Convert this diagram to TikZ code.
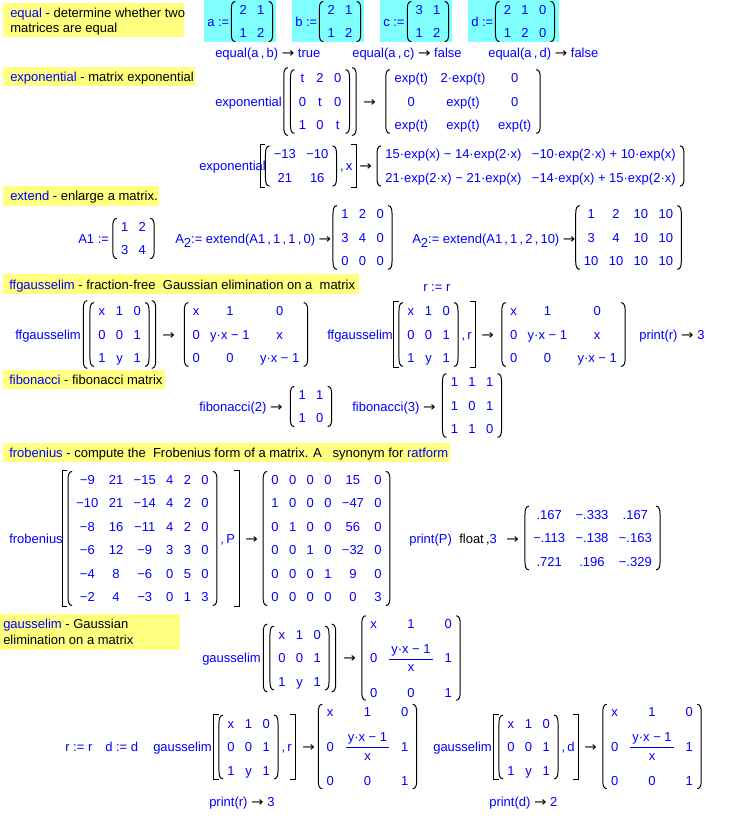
\documentclass[tikz,border=0pt]{standalone}
\usepackage{fontspec}
\usepackage{graphicx}
\setmainfont{Liberation Sans}
\newfontfamily\arrfont{DejaVu Sans}
\usetikzlibrary{matrix,calc}
\definecolor{mb}{RGB}{0,0,255}
\definecolor{hy}{RGB}{255,255,128}
\definecolor{hc}{RGB}{128,255,255}
\newcommand\mf{\fontsize{9.75}{11.7}\selectfont}
\newcommand\rarr{{\color{black}\arrfont\scalebox{1.15}[1]{→}}}
\newcommand\Asub{A\raisebox{-3.5pt}{2}}
\newcommand\gfrac{$\displaystyle{\hbox{\kern1.5pt y·x − 1\kern1.5pt}\above0.75pt\hbox{x}}$}
\tikzset{
 mt/.style={inner sep=0pt, anchor=west, text height=7pt, text depth=0pt, text=mb, font=\mf},
 dt/.style={inner sep=0pt, anchor=west, text height=7pt, text depth=0pt, text=black, font=\mf},
 cell/.style={inner sep=0pt, text height=7pt, text depth=0pt, text=mb, font=\mf},
 mat/.style={matrix of nodes, nodes={cell}, column sep=7.8pt, row sep=10.6pt, inner xsep=6pt, inner ysep=2.6pt, anchor=center},
 fmat/.style={mat, row sep=19pt, inner ysep=2pt},
 dl/.style={draw=black, line width=0.75pt},
 hly/.style={fill=hy, draw=none},
 hlc/.style={fill=hc, draw=none},
}
% parentheses around a node: node, extra x, extra y
\newcommand\pars[3]{%
 \draw[dl] ([xshift=-#2+3pt,yshift=#3]#1.north west) to[out=180,in=90] ([xshift=-#2,yshift=#3-6pt]#1.north west) -- ([xshift=-#2,yshift=-#3+6pt]#1.south west) to[out=-90,in=180] ([xshift=-#2+3pt,yshift=-#3]#1.south west);
 \draw[dl] ([xshift=#2-3pt,yshift=#3]#1.north east) to[out=0,in=90] ([xshift=#2,yshift=#3-6pt]#1.north east) -- ([xshift=#2,yshift=-#3+6pt]#1.south east) to[out=-90,in=0] ([xshift=#2-3pt,yshift=-#3]#1.south east);
}
% left bracket: node, extra x, extra y
\newcommand\lbrk[3]{%
 \draw[dl] ([xshift=-#2+4pt,yshift=#3]#1.north west) -- ([xshift=-#2,yshift=#3]#1.north west) -- ([xshift=-#2,yshift=-#3]#1.south west) -- ([xshift=-#2+4pt,yshift=-#3]#1.south west);
}
% right bracket: matrix node, text node at the right, extra x, extra y
\newcommand\rbrk[4]{%
 \draw[dl] ($(#1.north -| #2.east)+(#3-4pt,#4)$) -- ($(#1.north -| #2.east)+(#3,#4)$) -- ($(#1.south -| #2.east)+(#3,-#4)$) -- ($(#1.south -| #2.east)+(#3-4pt,-#4)$);
}
\begin{document}
\begin{tikzpicture}[x=0.75pt,y=-0.75pt]
\useasboundingbox (0,0) rectangle (738,820);
\fill[white] (0,0) rectangle (738,820);
% ---------- equal
\fill[hly] (3,3) rectangle (184,37);
\node[dt] (d1a) at (10,13) {{\color{mb}equal} - determine whether two};
\node[dt] (d1b) at (10,28) {matrices are equal};
\fill[hlc] (204,0) rectangle (276,42);
\fill[hlc] (292,0) rectangle (364,42);
\fill[hlc] (380,0) rectangle (452,42);
\fill[hlc] (468,0) rectangle (559,42);
\node[mt] (la) at (207,21.5) {a :=};
\matrix (ma) [mat] at (252,21.5) {2 & 1\\ 1 & 2\\};
\pars{ma}{0pt}{0pt}
\node[mt] (lb) at (295,21.5) {b :=};
\matrix (mbm) [mat] at (340,21.5) {2 & 1\\ 1 & 2\\};
\pars{mbm}{0pt}{0pt}
\node[mt] (lc) at (383,21.5) {c :=};
\matrix (mc) [mat] at (428,21.5) {3 & 1\\ 1 & 2\\};
\pars{mc}{0pt}{0pt}
\node[mt] (ld) at (471,21.5) {d :=};
\matrix (md) [mat] at (525,21.5) {2 & 1 & 0\\ 1 & 2 & 0\\};
\pars{md}{0pt}{0pt}
\node[mt] (e1) at (215,53) {equal(a\,,\,b) \rarr{} true};
\node[mt] (e2) at (352,53) {equal(a\,,\,c) \rarr{} false};
\node[mt] (e3) at (488,53) {equal(a\,,\,d) \rarr{} false};
% ---------- exponential
\fill[hly] (3,67) rectangle (195,86);
\node[dt] (d2) at (10,77) {{\color{mb}exponential} - matrix exponential};
\node[mt] (x1) at (215,101.5) {exponential};
\matrix (m1i) [mat] at (320,101.5) {t & 2 & 0\\ 0 & t & 0\\ 1 & 0 & t\\};
\pars{m1i}{0pt}{0pt}
\pars{m1i}{5pt}{1.5pt}
\node[dt] (a1) at (363,101.5) {\rarr};
\matrix (m1o) [mat, column sep=9.5pt, inner xsep=6.5pt] at (463,101.5) {exp(t) & 2·exp(t) & 0\\ 0 & exp(t) & 0\\ exp(t) & exp(t) & exp(t)\\};
\pars{m1o}{0pt}{0pt}
\node[mt] (x2) at (199,166) {exponential};
\matrix (m2i) [mat] at (301,166) {−13 & −10\\ 21 & 16\\};
\pars{m2i}{0pt}{0pt}
\lbrk{m2i}{4pt}{0.75pt}
\node[mt] (c2) at ([xshift=2.5pt]m2i.east) {,\,x};
\rbrk{m2i}{c2}{2.5pt}{0.75pt}
\node[dt] (a2) at (359,166) {\rarr};
\matrix (m2o) [mat] at (530.5,166) {15·exp(x) − 14·exp(2·x) & −10·exp(2·x) + 10·exp(x)\\ 21·exp(2·x) − 21·exp(x) & −14·exp(x) + 15·exp(2·x)\\};
\pars{m2o}{0pt}{0pt}
% ---------- extend
\fill[hly] (3,186) rectangle (159,206);
\node[dt] (d3) at (10,196) {{\color{mb}extend} - enlarge a matrix.};
\node[mt] (lA1) at (78,238.5) {A1 :=};
\matrix (mA1) [mat] at (133.5,238.5) {1 & 2\\ 3 & 4\\};
\pars{mA1}{0pt}{0pt}
\node[mt] (ex1) at (175,238.5) {\Asub:= extend(A1\,,\,1\,,\,1\,,\,0) \rarr};
\matrix (mx1) [mat] at (362.5,237.5) {1 & 2 & 0\\ 3 & 4 & 0\\ 0 & 0 & 0\\};
\pars{mx1}{0pt}{0pt}
\node[mt] (ex2) at (412,238.5) {\Asub:= extend(A1\,,\,1\,,\,2\,,\,10) \rarr};
\matrix (mx2) [mat] at (628.5,237.5) {1 & 2 & 10 & 10\\ 3 & 4 & 10 & 10\\ 10 & 10 & 10 & 10\\};
\pars{mx2}{0pt}{0pt}
% ---------- ffgausselim
\fill[hly] (3,274) rectangle (359,294);
\node[dt] (d4) at (9,285) {{\color{mb}ffgausselim} - fraction-free\ \ Gaussian elimination on a\ \ matrix};
\node[mt] (rr1) at (423,287) {r := r};
\node[mt] (f1) at (15,334.5) {ffgausselim};
\matrix (mf1i) [mat] at (119.5,334.5) {x & 1 & 0\\ 0 & 0 & 1\\ 1 & y & 1\\};
\pars{mf1i}{0pt}{0pt}
\pars{mf1i}{5pt}{1.5pt}
\node[dt] (a4) at (162,334.5) {\rarr};
\matrix (mf1o) [mat] at (246,334.5) {x & 1 & 0\\ 0 & y·x − 1 & x\\ 0 & 0 & y·x − 1\\};
\pars{mf1o}{0pt}{0pt}
\node[mt] (f2) at (327,334.5) {ffgausselim};
\matrix (mf2i) [mat] at (428.5,334.5) {x & 1 & 0\\ 0 & 0 & 1\\ 1 & y & 1\\};
\pars{mf2i}{0pt}{0pt}
\lbrk{mf2i}{4pt}{0.75pt}
\node[mt] (c4) at ([xshift=2.5pt]mf2i.east) {,\,r};
\rbrk{mf2i}{c4}{2.5pt}{0.75pt}
\node[dt] (a5) at (481,334.5) {\rarr};
\matrix (mf2o) [mat] at (563.5,334.5) {x & 1 & 0\\ 0 & y·x − 1 & x\\ 0 & 0 & y·x − 1\\};
\pars{mf2o}{0pt}{0pt}
\node[mt] (pr1) at (639,334.5) {print(r) \rarr{} 3};
% ---------- fibonacci
\fill[hly] (3,370) rectangle (165,389);
\node[dt] (d5) at (9,380) {{\color{mb}fibonacci} - fibonacci matrix};
\node[mt] (fb2t) at (199,407) {fibonacci(2) \rarr};
\matrix (mfb2) [mat] at (311,406.5) {1 & 1\\ 1 & 0\\};
\pars{mfb2}{0pt}{0pt}
\node[mt] (fb3t) at (352,407) {fibonacci(3) \rarr};
\matrix (mfb3) [mat] at (472,405.5) {1 & 1 & 1\\ 1 & 0 & 1\\ 1 & 1 & 0\\};
\pars{mfb3}{0pt}{0pt}
% ---------- frobenius
\fill[hly] (3,443) rectangle (450,462);
\node[dt] (d6) at (9,452.5) {{\color{mb}frobenius} - compute the\ \ Frobenius form of a matrix. A\ \ \ synonym for {\color{mb}ratform}};
\node[mt] (fr) at (9,538.5) {frobenius};
\matrix (mfri) [mat] at (142.5,538.5) {−9 & 21 & −15 & 4 & 2 & 0\\ −10 & 21 & −14 & 4 & 2 & 0\\ −8 & 16 & −11 & 4 & 2 & 0\\ −6 & 12 & −9 & 3 & 3 & 0\\ −4 & 8 & −6 & 0 & 5 & 0\\ −2 & 4 & −3 & 0 & 1 & 3\\};
\pars{mfri}{0pt}{0pt}
\lbrk{mfri}{4.5pt}{1pt}
\node[mt] (c6) at ([xshift=2.5pt]mfri.east) {,\,P};
\rbrk{mfri}{c6}{3pt}{1pt}
\node[dt] (a6) at (245,538.5) {\rarr};
\matrix (mfro) [mat] at (326.5,538.5) {0 & 0 & 0 & 0 & 15 & 0\\ 1 & 0 & 0 & 0 & −47 & 0\\ 0 & 1 & 0 & 0 & 56 & 0\\ 0 & 0 & 1 & 0 & −32 & 0\\ 0 & 0 & 0 & 1 & 9 & 0\\ 0 & 0 & 0 & 0 & 0 & 3\\};
\pars{mfro}{0pt}{0pt}
\node[mt] (pP) at (409,538.5) {print(P)};
\node[mt] (fl) at (459,538.5) {{\color{black}float\,,}3};
\node[dt] (a7) at (506,538.5) {\rarr};
\matrix (mfp) [mat] at (592.5,538) {.167 & −.333 & .167\\ −.113 & −.138 & −.163\\ .721 & .196 & −.329\\};
\pars{mfp}{0pt}{0pt}
% ---------- gausselim
\fill[hly] (0,614) rectangle (180,650);
\node[dt] (d7a) at (3,624) {{\color{mb}gausselim} - Gaussian};
\node[dt] (d7b) at (3,640) {elimination on a matrix};
\node[mt] (g1) at (202,658) {gausselim};
\matrix (mg1i) [mat] at (299.5,658) {x & 1 & 0\\ 0 & 0 & 1\\ 1 & y & 1\\};
\pars{mg1i}{0pt}{0pt}
\pars{mg1i}{5pt}{1.5pt}
\node[dt] (a8) at (343,658) {\rarr};
\matrix (mg1o) [fmat] at (411,658) {x & 1 & 0\\ 0 & \gfrac & 1\\ 0 & 0 & 1\\};
\pars{mg1o}{0pt}{0pt}
\node[mt] (rr2) at (65,747) {r := r};
\node[mt] (dd2) at (105,747) {d := d};
\node[mt] (g2) at (153,747) {gausselim};
\matrix (mg2i) [mat] at (248.5,747) {x & 1 & 0\\ 0 & 0 & 1\\ 1 & y & 1\\};
\pars{mg2i}{0pt}{0pt}
\lbrk{mg2i}{4pt}{0.75pt}
\node[mt] (c8) at ([xshift=2.5pt]mg2i.east) {,\,r};
\rbrk{mg2i}{c8}{2.5pt}{0.75pt}
\node[dt] (a9) at (302,747) {\rarr};
\matrix (mg2o) [fmat] at (367.5,746.5) {x & 1 & 0\\ 0 & \gfrac & 1\\ 0 & 0 & 1\\};
\pars{mg2o}{0pt}{0pt}
\node[mt] (pr2) at (209,802) {print(r) \rarr{} 3};
\node[mt] (g3) at (433,747) {gausselim};
\matrix (mg3i) [mat] at (528.5,747) {x & 1 & 0\\ 0 & 0 & 1\\ 1 & y & 1\\};
\pars{mg3i}{0pt}{0pt}
\lbrk{mg3i}{4pt}{0.75pt}
\node[mt] (c9) at ([xshift=2.5pt]mg3i.east) {,\,d};
\rbrk{mg3i}{c9}{2.5pt}{0.75pt}
\node[dt] (a10) at (584,747) {\rarr};
\matrix (mg3o) [fmat] at (652,746.5) {x & 1 & 0\\ 0 & \gfrac & 1\\ 0 & 0 & 1\\};
\pars{mg3o}{0pt}{0pt}
\node[mt] (pr3) at (489,802) {print(d) \rarr{} 2};
\end{tikzpicture}
\end{document}
